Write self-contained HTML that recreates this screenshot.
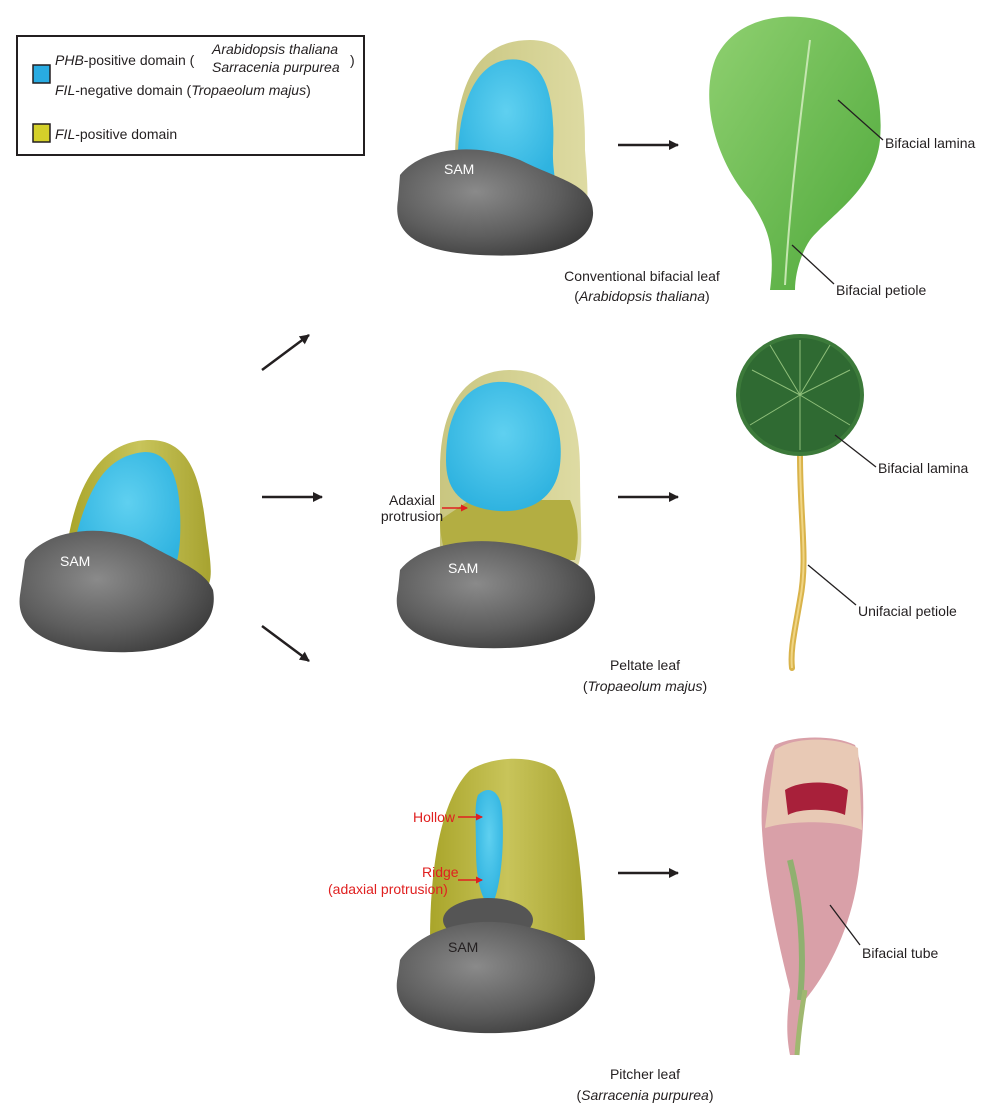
<!DOCTYPE html>
<html><head><meta charset="utf-8"><style>
body{margin:0;background:#fff}
svg{display:block}
text{font-family:"Liberation Sans",Arial,sans-serif;font-size:14px;fill:#231f20}
</style></head><body>
<svg width="1000" height="1108" viewBox="0 0 1000 1108" xmlns="http://www.w3.org/2000/svg">
<defs>
<radialGradient id="grey" cx="0.4" cy="0.4" r="0.7"><stop offset="0" stop-color="#8a8a8a"/><stop offset="0.6" stop-color="#5e5e5e"/><stop offset="1" stop-color="#3a3a3a"/></radialGradient>
<linearGradient id="yel" x1="0" y1="0" x2="1" y2="0"><stop offset="0" stop-color="#a9a52a"/><stop offset="0.5" stop-color="#c8c45a"/><stop offset="1" stop-color="#a7a330"/></linearGradient>
<linearGradient id="yelpale" x1="0" y1="0" x2="1" y2="0"><stop offset="0" stop-color="#c9c680"/><stop offset="1" stop-color="#dedba3"/></linearGradient>
<radialGradient id="blue" cx="0.5" cy="0.4" r="0.6"><stop offset="0" stop-color="#5fd0f0"/><stop offset="1" stop-color="#2fb3e0"/></radialGradient>
<linearGradient id="leaf" x1="0" y1="0" x2="1" y2="1"><stop offset="0" stop-color="#8fd070"/><stop offset="1" stop-color="#4ea83a"/></linearGradient>
<marker id="ah" markerWidth="10" markerHeight="10" refX="9" refY="5" orient="auto" markerUnits="userSpaceOnUse"><path d="M0,0 L10,5 L0,10 Z" fill="#231f20"/></marker>
<marker id="ahr" markerWidth="7" markerHeight="7" refX="6" refY="3.5" orient="auto" markerUnits="userSpaceOnUse"><path d="M0,0 L7,3.5 L0,7 Z" fill="#e02020"/></marker>
</defs>

<!-- Legend -->
<rect x="17" y="36" width="347" height="119" fill="#fff" stroke="#231f20" stroke-width="2"/>
<rect x="33" y="65" width="17" height="18" fill="#29abe2" stroke="#231f20" stroke-width="1.5"/>
<rect x="33" y="124" width="17" height="18" fill="#d4d02a" stroke="#231f20" stroke-width="1.5"/>
<text x="55" y="65"><tspan font-style="italic">PHB</tspan>-positive domain (</text>
<text x="212" y="54" font-size="13" font-style="italic">Arabidopsis thaliana</text>
<text x="212" y="72" font-size="13" font-style="italic">Sarracenia purpurea</text>
<text x="350" y="65">)</text>
<text x="55" y="95"><tspan font-style="italic">FIL</tspan>-negative domain (<tspan font-style="italic">Tropaeolum majus</tspan>)</text>
<text x="55" y="139"><tspan font-style="italic">FIL</tspan>-positive domain</text>

<!-- Left primordium -->
<path d="M68,540 C80,470 110,440 150,440 C190,440 200,480 205,520 C210,560 215,580 205,590 L150,590 Z" fill="url(#yel)"/>
<path d="M75,540 C90,480 110,455 145,452 C175,452 182,490 180,540 C178,570 170,580 160,578 Z" fill="url(#blue)"/>
<path d="M25,560 C40,535 90,520 140,540 C175,560 205,570 213,590 C220,630 180,655 110,652 C50,650 15,630 20,595 Z" fill="url(#grey)"/>
<text x="60" y="566" style="fill:#fff">SAM</text>

<!-- Arrows -->
<line x1="262" y1="370" x2="309" y2="335" stroke="#231f20" stroke-width="2.5" marker-end="url(#ah)"/>
<line x1="262" y1="497" x2="322" y2="497" stroke="#231f20" stroke-width="2.5" marker-end="url(#ah)"/>
<line x1="262" y1="626" x2="309" y2="661" stroke="#231f20" stroke-width="2.5" marker-end="url(#ah)"/>
<line x1="618" y1="145" x2="678" y2="145" stroke="#231f20" stroke-width="2.5" marker-end="url(#ah)"/>
<line x1="618" y1="497" x2="678" y2="497" stroke="#231f20" stroke-width="2.5" marker-end="url(#ah)"/>
<line x1="618" y1="873" x2="678" y2="873" stroke="#231f20" stroke-width="2.5" marker-end="url(#ah)"/>

<!-- Top middle -->
<path d="M455,160 C455,80 480,40 530,40 C580,40 585,90 585,150 C588,190 590,210 580,215 L470,215 Z" fill="url(#yelpale)"/>
<path d="M458,150 C462,80 490,55 520,60 C550,65 555,110 553,150 C552,175 560,185 548,190 C520,180 485,160 458,150 Z" fill="url(#blue)"/>
<path d="M400,175 C420,150 470,140 520,160 C560,180 595,185 593,215 C590,250 540,258 480,255 C420,252 392,235 398,200 Z" fill="url(#grey)"/>
<text x="444" y="174" style="fill:#fff">SAM</text>

<!-- Arabidopsis leaf -->
<path d="M770,290 C775,250 770,230 750,200 C715,160 700,100 715,60 C730,25 770,12 810,18 C860,25 885,80 880,140 C875,190 830,215 810,240 C800,255 795,275 795,290 Z" fill="url(#leaf)"/>
<path d="M785,285 C790,200 800,120 810,40" stroke="#c5e6b0" stroke-width="2" fill="none"/>
<line x1="838" y1="100" x2="883" y2="140" stroke="#231f20" stroke-width="1.3"/>
<text x="885" y="148">Bifacial lamina</text>
<line x1="792" y1="245" x2="834" y2="284" stroke="#231f20" stroke-width="1.3"/>
<text x="836" y="295">Bifacial petiole</text>
<text x="642" y="281" text-anchor="middle">Conventional bifacial leaf</text>
<text x="642" y="301" text-anchor="middle">(<tspan font-style="italic">Arabidopsis thaliana</tspan>)</text>

<!-- Middle primordium -->
<path d="M440,470 C440,400 470,370 510,370 C560,370 580,410 580,470 C580,530 585,560 575,570 L440,570 Z" fill="url(#yelpale)"/>
<path d="M440,520 C440,540 445,555 450,560 L575,560 C580,540 578,520 570,500 L470,500 Z" fill="#b3ae42"/>
<path d="M446,460 C446,400 475,380 505,382 C545,385 565,420 560,465 C555,505 520,515 490,510 C460,505 446,490 446,460 Z" fill="url(#blue)"/>
<path d="M400,570 C420,545 470,535 520,545 C565,555 597,565 595,600 C590,640 540,650 480,648 C420,646 390,625 398,590 Z" fill="url(#grey)"/>
<text x="448" y="573" style="fill:#fff">SAM</text>
<text x="412" y="505" text-anchor="middle" font-size="13">Adaxial</text>
<text x="412" y="521" text-anchor="middle" font-size="13">protrusion</text>
<line x1="442" y1="508" x2="467" y2="508" stroke="#e02020" stroke-width="1.5" marker-end="url(#ahr)"/>

<!-- Nasturtium -->
<path d="M800,455 C800,520 808,560 800,600 C795,630 790,650 792,668" stroke="#d9b34a" stroke-width="6" fill="none" stroke-linecap="round"/>
<path d="M800,455 C800,520 808,560 800,600 C795,630 790,650 792,668" stroke="#f0d585" stroke-width="2" fill="none"/>
<ellipse cx="800" cy="395" rx="64" ry="61" fill="#3c7a3a"/>
<ellipse cx="800" cy="395" rx="60" ry="57" fill="#2f6a32"/>
<g stroke="#8fbf7a" stroke-width="1" fill="none">
<line x1="800" y1="395" x2="800" y2="340"/><line x1="800" y1="395" x2="850" y2="370"/><line x1="800" y1="395" x2="850" y2="425"/><line x1="800" y1="395" x2="800" y2="450"/><line x1="800" y1="395" x2="750" y2="425"/><line x1="800" y1="395" x2="752" y2="370"/><line x1="800" y1="395" x2="830" y2="345"/><line x1="800" y1="395" x2="770" y2="345"/>
</g>
<line x1="835" y1="435" x2="876" y2="467" stroke="#231f20" stroke-width="1.3"/>
<text x="878" y="473">Bifacial lamina</text>
<line x1="808" y1="565" x2="856" y2="605" stroke="#231f20" stroke-width="1.3"/>
<text x="858" y="616">Unifacial petiole</text>
<text x="645" y="670" text-anchor="middle">Peltate leaf</text>
<text x="645" y="691" text-anchor="middle">(<tspan font-style="italic">Tropaeolum majus</tspan>)</text>

<!-- Bottom primordium -->
<path d="M430,940 C430,870 440,800 470,770 C495,755 535,755 555,770 C575,800 582,870 585,940 Z" fill="url(#yel)"/>
<path d="M478,795 C488,785 500,790 502,810 C505,850 500,890 492,905 C482,905 476,880 476,850 C476,825 474,805 478,795 Z" fill="url(#blue)"/>
<ellipse cx="488" cy="920" rx="45" ry="22" fill="#555"/>
<path d="M400,960 C420,930 470,915 520,925 C565,935 597,950 595,980 C592,1020 540,1035 480,1033 C420,1031 390,1010 398,975 Z" fill="url(#grey)"/>
<text x="448" y="952" style="fill:#231f20">SAM</text>
<text x="413" y="822" font-size="13" style="fill:#e02020">Hollow</text>
<line x1="458" y1="817" x2="482" y2="817" stroke="#e02020" stroke-width="1.5" marker-end="url(#ahr)"/>
<text x="422" y="877" font-size="13" style="fill:#e02020">Ridge</text>
<text x="328" y="894" font-size="13" style="fill:#e02020">(adaxial protrusion)</text>
<line x1="458" y1="880" x2="482" y2="880" stroke="#e02020" stroke-width="1.5" marker-end="url(#ahr)"/>

<!-- Pitcher -->
<path d="M790,1055 C785,1030 788,1010 790,990 C775,930 765,880 762,830 C760,800 765,760 775,745 C795,735 835,735 855,745 C865,770 865,820 860,860 C855,920 830,970 805,1000 C800,1020 798,1040 798,1055 Z" fill="#d9a0a8"/>
<path d="M775,750 C795,735 840,738 858,748 L862,830 C840,820 790,820 765,828 Z" fill="#e8c9b5"/>
<path d="M785,790 C800,780 835,780 848,790 L845,815 C830,808 800,808 788,815 Z" fill="#a8203a"/>
<path d="M790,860 C800,900 805,950 800,1000" stroke="#90b070" stroke-width="6" fill="none"/>
<path d="M805,990 C800,1020 798,1040 797,1055" stroke="#a0b870" stroke-width="5" fill="none"/>
<line x1="830" y1="905" x2="860" y2="945" stroke="#231f20" stroke-width="1.3"/>
<text x="862" y="958">Bifacial tube</text>
<text x="645" y="1079" text-anchor="middle">Pitcher leaf</text>
<text x="645" y="1100" text-anchor="middle">(<tspan font-style="italic">Sarracenia purpurea</tspan>)</text>
</svg>
</body></html>
